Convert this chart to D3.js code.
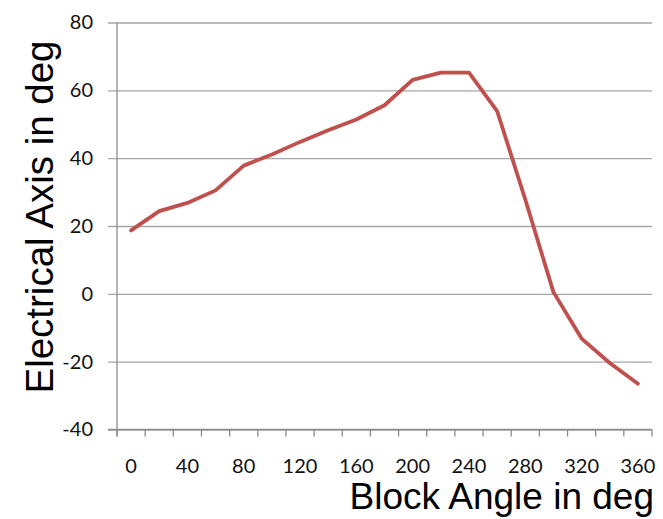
<!DOCTYPE html>
<html>
<head>
<meta charset="utf-8">
<script src="https://cdn.jsdelivr.net/npm/d3@7"></script>
<style>
  html, body { margin: 0; padding: 0; background: #fff; }
  svg { display: block; }
</style>
</head>
<body>
<svg id="chart" width="663" height="519"></svg>
<script>
const categories = [0, 20, 40, 60, 80, 100, 120, 140, 160, 180, 200, 220, 240, 260, 280, 300, 320, 340, 360];
const electricalAxis = [18.7, 24.4, 26.8, 30.5, 37.8, 41.1, 44.8, 48.2, 51.4, 55.6, 63.1, 65.2, 65.2, 53.9, 27.8, 0.5, -13.2, -20.4, -26.5];
const yTicks = [-40, -20, 0, 20, 40, 60, 80];
const xLabels = [0, 40, 80, 120, 160, 200, 240, 280, 320, 360];
const xTitle = "Block Angle in deg";
const yTitle = "Electrical Axis in deg";

(function () {
const svg = d3.select("#chart");
const pLeft = 117, pRight = 652, pTop = 22.5, pBottom = 429.5;

const x = d3.scaleBand().domain(categories).range([pLeft, pRight]).padding(0);
const y = d3.scaleLinear().domain([-40, 80]).range([pBottom, pTop]);

// gridlines + y ticks
const yAxis = d3.axisLeft(y).tickValues(yTicks).tickSize(-(pRight - pLeft)).tickSizeOuter(0).tickPadding(24).tickFormat(d => String(d));
const gY = svg.append("g").attr("transform", `translate(${pLeft},0)`).call(yAxis);
gY.select(".domain").remove();
gY.selectAll(".tick line").attr("stroke", "#a6a6a6").attr("stroke-width", 1.3).attr("x1", -9);
gY.selectAll(".tick text").attr("font-family", "Lato, 'Open Sans', sans-serif").attr("font-size", 20).attr("fill", "#111");

// y axis line
svg.append("line").attr("x1", pLeft).attr("x2", pLeft).attr("y1", pTop).attr("y2", pBottom + 7)
  .attr("stroke", "#8c8c8c").attr("stroke-width", 1.3);

// x axis line + category boundary ticks
svg.append("line").attr("x1", pLeft - 9).attr("x2", pRight).attr("y1", pBottom).attr("y2", pBottom)
  .attr("stroke", "#8c8c8c").attr("stroke-width", 1.3);
const boundaries = categories.map(c => x(c)).concat([x(categories[categories.length - 1]) + x.bandwidth()]);
svg.append("g").selectAll("line").data(boundaries).join("line")
  .attr("x1", d => d).attr("x2", d => d).attr("y1", pBottom).attr("y2", pBottom + 7)
  .attr("stroke", "#8c8c8c").attr("stroke-width", 1.3);

// x labels
svg.append("g").selectAll("text").data(xLabels).join("text")
  .attr("x", d => x(d) + x.bandwidth() / 2).attr("y", 473)
  .attr("text-anchor", "middle")
  .attr("font-family", "Lato, 'Open Sans', sans-serif").attr("font-size", 20).attr("fill", "#111")
  .text(d => String(d));

// line
const line = d3.line()
  .x((d, i) => x(categories[i]) + x.bandwidth() / 2)
  .y(d => y(d));
svg.append("path").datum(electricalAxis)
  .attr("d", line).attr("fill", "none")
  .attr("stroke", "#c0504d").attr("stroke-width", 3.8)
  .attr("stroke-linejoin", "round").attr("stroke-linecap", "round");

// titles
svg.append("text").attr("x", 654).attr("y", 509).attr("text-anchor", "end")
  .attr("font-family", "'Liberation Sans', Arial, sans-serif").attr("font-size", 37).attr("fill", "#000")
  .text(xTitle);
svg.append("text").attr("transform", `translate(53,217) rotate(-90)`).attr("text-anchor", "middle")
  .attr("font-family", "'Liberation Sans', Arial, sans-serif").attr("font-size", 38.5).attr("fill", "#000")
  .text(yTitle);
})();
</script>
</body>
</html>
